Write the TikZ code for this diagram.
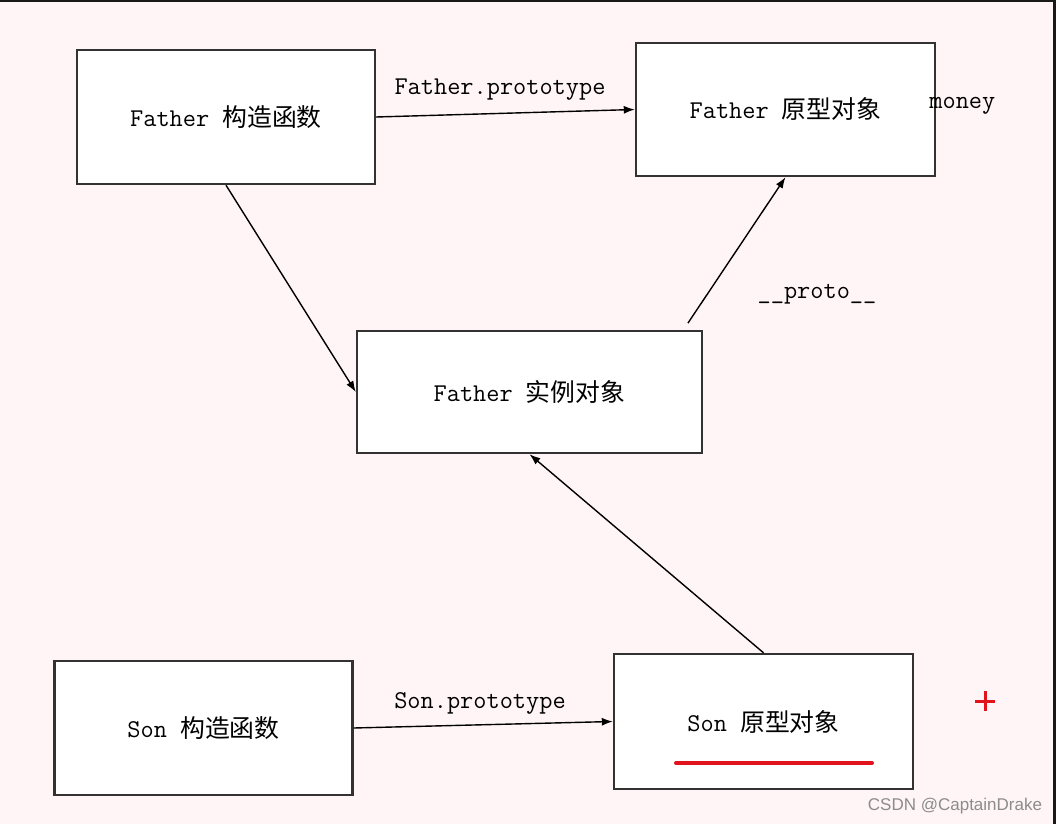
\documentclass[tikz,border=0pt]{standalone}
\usepackage{fontspec}
\newfontfamily\cjk{Noto Sans CJK SC}[Scale=0.97]
\newfontfamily\wmfont{Liberation Sans}
\usetikzlibrary{arrows.meta, positioning}
\definecolor{bgpink}{RGB}{255,245,247}
\definecolor{boxline}{RGB}{50,50,50}
\definecolor{penred}{RGB}{225,20,30}
\newcommand{\zh}[1]{{\cjk #1}}

\begin{document}
\begin{tikzpicture}
  [
    x=0.5pt, y=-0.5pt,
    Box/.style={rectangle, draw=boxline, fill=white, line width=1.2pt, minimum width=149pt, minimum height=67pt, inner sep=0pt, font=\ttfamily\fontsize{12.8}{14}\selectfont},
    Tag/.style={inner sep=0pt, font=\ttfamily\fontsize{12.8}{14}\selectfont},
    Link/.style={-{Latex[length=5.5pt,width=4pt]}, draw=black, line width=0.7pt}
  ]
  \useasboundingbox[fill=bgpink] (0,0) rectangle (1056,824);
  \fill[black!90] (0,0) rectangle (1056,2.5);
  \fill[black!90] (1052.5,0) rectangle (1056,824);
  % Nodes
  \node[Box] (fctor) at (226,117) {Father \zh{构造函数}};
  \node[Box, minimum width=149.5pt, minimum height=66.5pt] (fproto) at (785.5,109.5) {Father \zh{原型对象}};
  \node[Box, minimum width=172.5pt, minimum height=61pt] (finst) at (529.5,392) {Father \zh{实例对象}};
  \node[Box] (sctor) at (203.5,728) {Son \zh{构造函数}};
  \node[Box, minimum width=149.5pt, minimum height=67.5pt] (sproto) at (763.5,721.5) {Son \zh{原型对象}};
  \node[Tag] (fplabel) at (500,90) {Father.prototype};
  \node[Tag] (splabel) at (480,703) {Son.prototype};
  \node[Tag] (protolabel) at (817,294) {\_\_proto\_\_};
  \node[Tag, anchor=west] (money) at (929,106) {money};
  \node[font=\wmfont\fontsize{8.5}{10}\selectfont, text=black!45, inner sep=0pt] (mark) at (955,806) {CSDN @CaptainDrake};
  % Lines
  \path [Link] (fctor.east) -- (fproto.west);
  \path [Link] (fctor.south) -- (finst.west);
  \path [Link, shorten <=4pt] (finst.22) -- (fproto.south);
  \path [Link] (sproto.north) -- (finst.south);
  \path [Link] (sctor.east) -- (sproto.west);
  % Pen marks
  \draw[penred, line width=2pt, line cap=round] (676,763) -- (872,763);
  \draw[penred, line width=1.5pt] (975,701) -- (995,701) (985,691) -- (985,711);
\end{tikzpicture}
\end{document}
